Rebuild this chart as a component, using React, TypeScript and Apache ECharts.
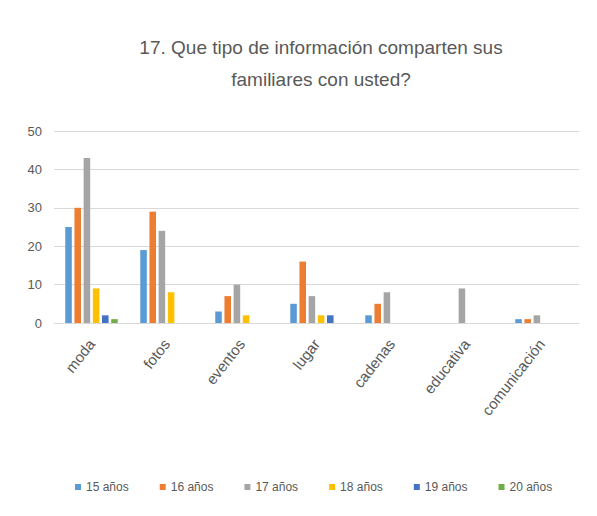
import React, { useEffect, useRef } from "react";
import * as echarts from "echarts";

const categories = ["moda", "fotos", "eventos", "lugar", "cadenas", "educativa", "comunicación"];
const seriesNames = ["15 años", "16 años", "17 años", "18 años", "19 años", "20 años"];
const s15 = [25, 19, 3, 5, 2, 0, 1];
const s16 = [30, 29, 7, 16, 5, 0, 1];
const s17 = [43, 24, 10, 7, 8, 9, 2];
const s18 = [9, 8, 2, 2, 0, 0, 0];
const s19 = [2, 0, 0, 2, 0, 0, 0];
const s20 = [1, 0, 0, 0, 0, 0, 0];
const colors = ["#5B9BD5", "#ED7D31", "#A5A5A5", "#FFC000", "#4472C4", "#70AD47"];

export default function App() {
  const ref = useRef<HTMLDivElement>(null);
  useEffect(() => {
    const chart = echarts.init(ref.current!, null, { renderer: "svg" });
    const data = [s15, s16, s17, s18, s19, s20];
    chart.setOption({
      animation: false,
      color: colors,
      title: {
        text: "17. Que tipo de información comparten sus\nfamiliares con usted?",
        left: 308,
        textAlign: "center",
        top: 18,
        textStyle: { fontFamily: "Liberation Sans", fontSize: 19, fontWeight: "normal", color: "#595959", lineHeight: 32 },
      },
      grid: { left: 46, right: 10, top: 123, bottom: 185 },
      legend: {
        bottom: 10,
        left: 62,
        itemWidth: 6,
        itemHeight: 6,
        itemGap: 31,
        icon: "rect",
        textStyle: { fontFamily: "Liberation Sans", fontSize: 12, color: "#595959" },
        data: seriesNames,
      },
      xAxis: {
        type: "category",
        data: categories,
        axisLine: { lineStyle: { color: "#D9D9D9" } },
        axisTick: { show: false },
        axisLabel: { rotate: 52, interval: 0, fontFamily: "Liberation Sans", fontSize: 15, color: "#595959", margin: 18 },
      },
      yAxis: {
        type: "value",
        min: 0,
        max: 50,
        interval: 10,
        axisLine: { show: false },
        axisTick: { show: false },
        splitLine: { lineStyle: { color: "#D9D9D9" } },
        axisLabel: { fontFamily: "Liberation Sans", fontSize: 13, color: "#595959", margin: 12 },
      },
      series: seriesNames.map((n, i) => ({
        name: n,
        type: "bar",
        data: data[i],
        barGap: "40%",
        barCategoryGap: "30%",
      })),
    });
    return () => chart.dispose();
  }, []);
  return <div ref={ref} style={{ width: 581, height: 500 }} />;
}
